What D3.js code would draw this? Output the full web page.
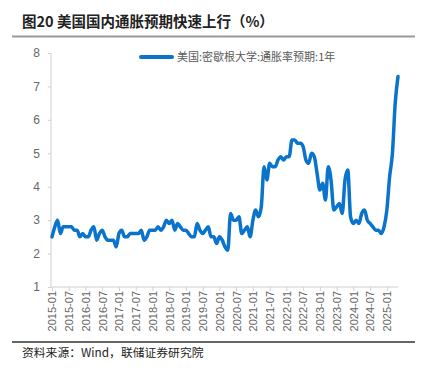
<!DOCTYPE html>
<html><head><meta charset="utf-8">
<script src="https://cdn.jsdelivr.net/npm/d3@7"></script>
<style>
html,body{margin:0;padding:0;background:#fff;}
svg{display:block;}
</style></head>
<body>
<svg id="c" width="424" height="372"></svg>
<script>
const title = "图20 美国国内通胀预期快速上行（%）";
const seriesName = "美国:密歇根大学:通胀率预期:1年";
const source = "资料来源：Wind，联储证券研究院";
const startMonth = "2015-01";
const values = [
  2.5,2.8,3.0,2.6,2.8,2.8,2.8,2.8,2.7,2.7,2.5,2.6,
  2.5,2.5,2.7,2.8,2.4,2.6,2.7,2.5,2.4,2.4,2.4,2.2,
  2.6,2.7,2.5,2.5,2.6,2.6,2.6,2.6,2.7,2.4,2.5,2.7,
  2.7,2.7,2.8,2.7,2.8,3.0,2.9,3.0,2.7,2.9,2.8,2.7,
  2.7,2.6,2.5,2.5,2.9,2.7,2.6,2.7,2.8,2.5,2.5,2.3,
  2.5,2.4,2.2,2.1,3.2,3.0,3.0,3.1,2.6,2.7,2.8,2.5,
  3.0,3.3,3.1,3.4,4.6,4.2,4.7,4.6,4.6,4.8,4.9,4.8,
  4.9,4.9,5.4,5.4,5.3,5.3,5.2,4.8,4.7,5.0,4.9,4.4,
  3.9,4.1,3.6,4.6,4.2,3.3,3.4,3.5,3.2,4.2,4.5,3.1,
  2.9,3.0,2.9,3.2,3.3,3.0,2.9,2.8,2.7,2.7,2.6,2.8,
  3.3,4.3,5.0,6.5,7.3
];
const xTickLabels = ["2015-01","2015-07","2016-01","2016-07","2017-01","2017-07","2018-01","2018-07","2019-01","2019-07","2020-01","2020-07","2021-01","2021-07","2022-01","2022-07","2023-01","2023-07","2024-01","2024-07","2025-01"];
const yTicks = [1,2,3,4,5,6,7,8];

const svg = d3.select("#c");
const cn = "'Noto Sans CJK SC', sans-serif";
const lat = "'Liberation Sans', Arial, sans-serif";

// title
svg.append("text").attr("x",22).attr("y",27)
  .attr("font-family",cn).attr("font-weight","bold").attr("font-size",14.5)
  .attr("fill","#222").text(title);
svg.append("line").attr("x1",12).attr("x2",415).attr("y1",36.5).attr("y2",36.5)
  .attr("stroke","#9a9a9a").attr("stroke-width",2);

const monthIdx = s => { const [y,m] = s.split("-").map(Number); const [y0,m0]=startMonth.split("-").map(Number); return (y-y0)*12+(m-m0); };

const x = d3.scaleLinear().domain([0, values.length-1]).range([52, 398]);
const y = d3.scaleLinear().domain([1, 8]).range([287, 53]);

// y axis
const yAxis = svg.append("g").attr("transform","translate(51,0)")
  .call(d3.axisLeft(y).tickValues(yTicks).tickSize(3).tickPadding(8).tickFormat(d3.format("d")));
yAxis.select(".domain").attr("stroke","#d0d0d0").attr("d","M0,53V287");
yAxis.selectAll(".tick line").attr("stroke","#d0d0d0");
yAxis.selectAll("text").attr("font-family",lat).attr("font-size",12).attr("fill","#666");

// x axis
const xAxis = svg.append("g").attr("transform","translate(0,287)")
  .call(d3.axisBottom(x).tickValues(xTickLabels.map(monthIdx)).tickSize(4)
    .tickFormat((d,i)=>xTickLabels[i]));
xAxis.select(".domain").attr("stroke","#d0d0d0").attr("d","M51,0H398");
xAxis.selectAll(".tick line").attr("stroke","#d0d0d0");
xAxis.selectAll("text").attr("font-family",lat).attr("font-size",11).attr("fill","#666")
  .attr("text-anchor","end").attr("transform","translate(0,4) rotate(-90)")
  .attr("x",0).attr("y",0).attr("dy","0.35em");

// line
const line = d3.line().x((d,i)=>x(i)).y(d=>y(d)).curve(d3.curveMonotoneX);
svg.append("path").datum(values).attr("d",line).attr("fill","none")
  .attr("stroke","#0A74CC").attr("stroke-width",3.5)
  .attr("stroke-linejoin","round").attr("stroke-linecap","round");

// legend
svg.append("line").attr("x1",141).attr("x2",172).attr("y1",57).attr("y2",57)
  .attr("stroke","#0A74CC").attr("stroke-width",4).attr("stroke-linecap","round");
svg.append("text").attr("x",177).attr("y",61).attr("font-family",cn).attr("font-size",11)
  .attr("fill","#595959").text(seriesName);

// footer
svg.append("line").attr("x1",12).attr("x2",415).attr("y1",342).attr("y2",342)
  .attr("stroke","#333").attr("stroke-width",1.5);
svg.append("text").attr("x",22).attr("y",357).attr("font-family",cn).attr("font-size",11.8)
  .attr("fill","#222").text(source);
</script>
</body></html>
